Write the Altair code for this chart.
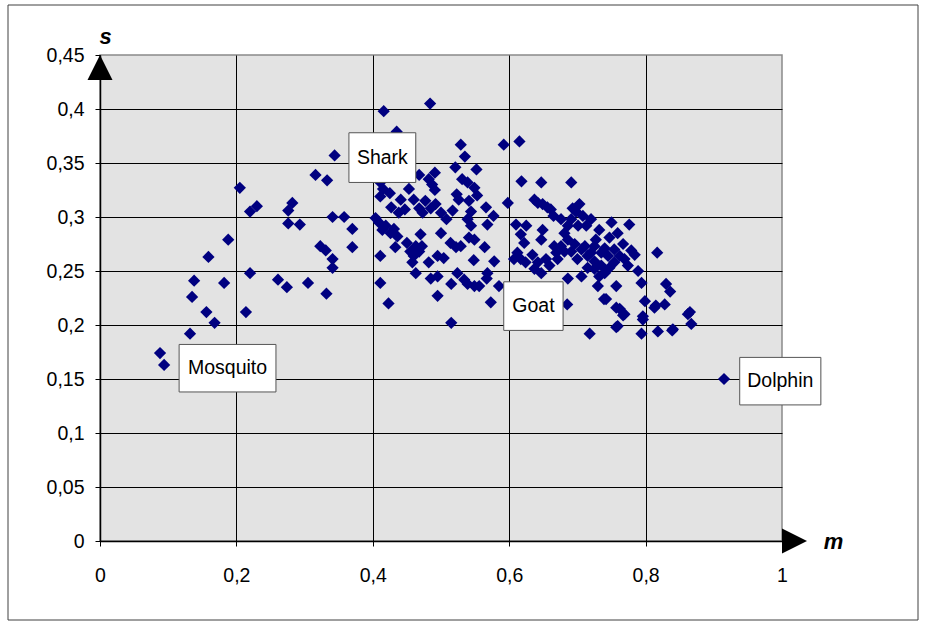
import altair as alt
import pandas as pd

# ---- data (m, s) ----
m_vals = [
    0.088, 0.094, 0.132, 0.135, 0.138, 0.156, 0.159, 0.168, 0.182, 0.188,
    0.205, 0.214, 0.220, 0.220, 0.230, 0.261, 0.274, 0.276, 0.276, 0.282,
    0.293, 0.305, 0.316, 0.323, 0.331, 0.332, 0.333, 0.341, 0.341, 0.341,
    0.344, 0.358, 0.370, 0.370,
    0.416, 0.484, 0.435, 0.529, 0.535, 0.592, 0.521, 0.552, 0.491, 0.482,
    0.491, 0.468, 0.453, 0.411, 0.411, 0.427, 0.441, 0.438, 0.447, 0.460,
    0.468, 0.477, 0.492, 0.500, 0.508, 0.517, 0.523, 0.531, 0.539, 0.549,
    0.553, 0.541, 0.544, 0.544, 0.566, 0.577, 0.568, 0.598, 0.404, 0.414,
    0.426, 0.436, 0.450, 0.433, 0.470, 0.463, 0.468, 0.458, 0.463, 0.482,
    0.500, 0.495, 0.504, 0.514, 0.529, 0.541, 0.549, 0.564, 0.548, 0.578,
    0.411, 0.411, 0.423, 0.485, 0.495, 0.495, 0.515, 0.524, 0.534, 0.539,
    0.549, 0.556, 0.568, 0.567, 0.585, 0.573, 0.515,
    0.415, 0.425, 0.487, 0.526, 0.539, 0.485, 0.473, 0.409, 0.419, 0.431,
    0.455, 0.460, 0.472, 0.522,
    0.615, 0.618, 0.647, 0.691, 0.637, 0.649, 0.661, 0.693, 0.703, 0.610,
    0.625, 0.617, 0.622, 0.649, 0.647, 0.676, 0.686, 0.681, 0.708, 0.720,
    0.732, 0.750, 0.759, 0.776, 0.747, 0.767, 0.784, 0.666, 0.696, 0.706,
    0.725, 0.735, 0.745, 0.754, 0.769, 0.612, 0.634, 0.654, 0.671, 0.681,
    0.700, 0.715, 0.624, 0.637, 0.647, 0.686, 0.706, 0.725, 0.732, 0.740,
    0.730, 0.757, 0.742, 0.789, 0.794, 0.762, 0.769, 0.799, 0.796, 0.759,
    0.794, 0.718, 0.685, 0.817, 0.830, 0.813, 0.828, 0.865, 0.867, 0.840,
    0.818, 0.739, 0.757, 0.767, 0.757, 0.796, 0.836, 0.839, 0.815, 0.862,
    0.642, 0.656, 0.665, 0.698, 0.691, 0.701, 0.713, 0.686, 0.676, 0.691,
    0.711, 0.720, 0.727, 0.740, 0.754, 0.762, 0.725, 0.735, 0.747, 0.715,
    0.774, 0.779, 0.607, 0.617, 0.642, 0.659, 0.669,
    0.915,
]
s_vals = [
    0.174, 0.163, 0.192, 0.226, 0.241, 0.212, 0.263, 0.202, 0.239, 0.279,
    0.327, 0.212, 0.248, 0.305, 0.310, 0.242, 0.235, 0.294, 0.306, 0.313,
    0.293, 0.239, 0.339, 0.273, 0.269, 0.229, 0.334, 0.300, 0.261, 0.253,
    0.357, 0.300, 0.289, 0.272,
    0.398, 0.405, 0.379, 0.367, 0.356, 0.367, 0.346, 0.344, 0.341, 0.335,
    0.325, 0.339, 0.326, 0.332, 0.319, 0.309, 0.316, 0.304, 0.307, 0.316,
    0.308, 0.315, 0.312, 0.304, 0.298, 0.306, 0.321, 0.335, 0.332, 0.327,
    0.320, 0.315, 0.305, 0.292, 0.309, 0.301, 0.293, 0.313, 0.299, 0.288,
    0.285, 0.282, 0.276, 0.272, 0.284, 0.273, 0.268, 0.258, 0.248, 0.258,
    0.285, 0.264, 0.262, 0.276, 0.273, 0.281, 0.279, 0.272, 0.260, 0.259,
    0.264, 0.239, 0.220, 0.243, 0.245, 0.227, 0.238, 0.248, 0.242, 0.238,
    0.236, 0.236, 0.248, 0.243, 0.236, 0.221, 0.202,
    0.326, 0.322, 0.330, 0.316, 0.298, 0.308, 0.304, 0.295, 0.292, 0.289,
    0.268, 0.264, 0.273, 0.272,
    0.370, 0.333, 0.332, 0.332, 0.316, 0.312, 0.307, 0.308, 0.312, 0.293,
    0.292, 0.284, 0.276, 0.288, 0.279, 0.298, 0.292, 0.285, 0.301, 0.298,
    0.288, 0.295, 0.285, 0.293, 0.281, 0.275, 0.265, 0.273, 0.275, 0.270,
    0.273, 0.267, 0.264, 0.258, 0.261, 0.267, 0.265, 0.261, 0.261, 0.268,
    0.261, 0.264, 0.258, 0.252, 0.248, 0.243, 0.245, 0.252, 0.245, 0.248,
    0.236, 0.236, 0.224, 0.250, 0.239, 0.215, 0.210, 0.222, 0.205, 0.199,
    0.192, 0.192, 0.219, 0.267, 0.238, 0.216, 0.219, 0.212, 0.201, 0.196,
    0.194, 0.224, 0.216, 0.209, 0.198, 0.208, 0.231, 0.195, 0.218, 0.210,
    0.313, 0.309, 0.301, 0.305, 0.298, 0.292, 0.292, 0.279, 0.273, 0.268,
    0.273, 0.267, 0.279, 0.271, 0.270, 0.264, 0.259, 0.255, 0.253, 0.253,
    0.255, 0.269, 0.261, 0.261, 0.258, 0.255, 0.267,
    0.150,
]

# annotation boxes (label, box corners in data units)
ann_label = ["Shark", "Goat", "Mosquito", "Dolphin"]
ann_m1 = [0.365, 0.592, 0.116, 0.938]
ann_m2 = [0.463, 0.679, 0.258, 1.057]
ann_s1 = [0.378, 0.240, 0.182, 0.170]
ann_s2 = [0.332, 0.195, 0.138, 0.126]

x_ticks = [0, 0.2, 0.4, 0.6, 0.8, 1]
y_ticks = [0, 0.05, 0.1, 0.15, 0.2, 0.25, 0.3, 0.35, 0.4, 0.45]

pts = pd.DataFrame({"m": m_vals, "s": s_vals})
ann = pd.DataFrame({"m": ann_m1, "m2": ann_m2, "s": ann_s1, "s2": ann_s2,
                    "label": ann_label})
ann_c = pd.DataFrame({"label": ann_label,
                      "m": [(a + b) / 2 for a, b in zip(ann_m1, ann_m2)],
                      "s": [(a + b) / 2 for a, b in zip(ann_s1, ann_s2)]})

FONT = "Liberation Sans"
FS = 19.5
xs = alt.Scale(domain=[0, 1], nice=False, zero=False)
ys = alt.Scale(domain=[0, 0.45], nice=False, zero=False)
lab = "replace(format(datum.value, '.2~f'), '.', ',')"

x_axis = alt.Axis(
    values=x_ticks, labelExpr=lab, title="m", titleFont=FONT,
    titleFontStyle="italic", titleFontWeight="bold", titleFontSize=22,
    titleX=733, titleY=0, titleAlign="center", titleBaseline="middle",
    tickSize=5, labelPadding=20, labelFlush=False,
    gridColor={"condition": {"test": "datum.value >= 0.99", "value": "transparent"},
               "value": "black"},
)
y_axis = alt.Axis(
    values=y_ticks, labelExpr=lab, title="s", titleFont=FONT,
    titleFontStyle="italic", titleFontWeight="bold", titleFontSize=22,
    titleAngle=0, titleX=5, titleY=-19, titleAlign="center",
    titleBaseline="middle", tickSize=5, labelPadding=11, labelFlush=False,
    gridColor={"condition": {"test": "datum.value >= 0.449", "value": "transparent"},
               "value": "black"},
)


def X(field="m"):
    return alt.X(field + ":Q", scale=xs, axis=x_axis, title="m")


def Y(field="s"):
    return alt.Y(field + ":Q", scale=ys, axis=y_axis, title="s")


points = alt.Chart(pts).mark_point(
    shape="diamond", filled=True, size=150, color="#000080", opacity=1
).encode(x=X(), y=Y())

arrow_up = alt.Chart(pd.DataFrame({"m": [0], "s": [0.45]})).mark_point(
    shape="M0,0L-1,2L1,2Z", filled=True, size=625, color="black", opacity=1
).encode(x=X(), y=Y())

arrow_right = alt.Chart(pd.DataFrame({"m": [1], "s": [0]})).mark_point(
    shape="M2,0L0,-1L0,1Z", filled=True, size=625, color="black", opacity=1
).encode(x=X(), y=Y())

shadow = alt.Chart(ann).mark_rect(color="#7a7a7a", xOffset=2, yOffset=2).encode(
    x=X(), x2="m2:Q", y=Y(), y2="s2:Q",
)
boxes = alt.Chart(ann).mark_rect(fill="white", stroke="#555555", strokeWidth=1).encode(
    x=X(), x2="m2:Q", y=Y(), y2="s2:Q",
)
texts = alt.Chart(ann_c).mark_text(
    font=FONT, fontSize=FS, color="black", align="center", baseline="middle"
).encode(x=X(), y=Y(), text="label:N")

frame = alt.Chart(pd.DataFrame({"k": [0]})).mark_rect(
    fill=None, stroke="#404040", strokeWidth=1
).encode(x=alt.value(-92), x2=alt.value(818), y=alt.value(-50), y2=alt.value(565))

chart = alt.layer(
    points, frame, arrow_up, arrow_right, shadow, boxes, texts
).properties(
    width=682, height=486,
    autosize=alt.AutoSizeParams(type="none"),
    padding={"left": 100, "top": 55, "right": 143, "bottom": 83},
    background="white",
).configure_view(
    fill="#e3e3e3", stroke="#8a8a8a", strokeWidth=1.5
).configure_axis(
    domainColor="black", domainWidth=1.5, tickColor="black", tickWidth=1,
    gridWidth=1, labelFont=FONT, labelFontSize=FS, labelColor="black",
    titleColor="black",
)

chart.save("out.html", embed_options={"renderer": "svg", "actions": False})
